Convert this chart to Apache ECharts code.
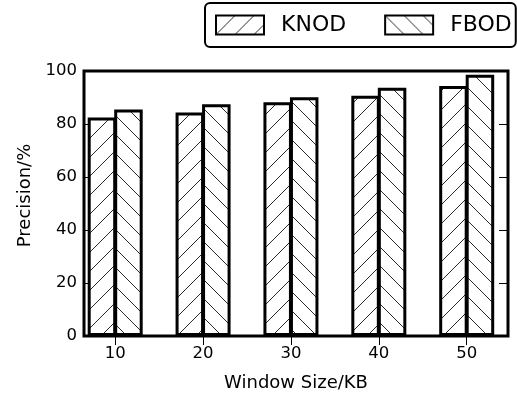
<!DOCTYPE html>
<html>
<head>
<meta charset="utf-8">
<script src="https://cdn.jsdelivr.net/npm/echarts@6/dist/echarts.min.js"></script>
<style>
html,body{margin:0;padding:0;background:#fff;}
#chart{width:517px;height:401px;}
</style>
</head>
<body>
<div id="chart"></div>
<script>
// ---- data ----
const windowSizes = [10, 20, 30, 40, 50];
const knodValues = [82.5, 84.3, 88.2, 90.7, 94.3];
const fbodValues = [85.5, 87.5, 90.1, 93.7, 98.6];
const yTicks = [0, 20, 40, 60, 80, 100];
const seriesNames = ['KNOD', 'FBOD'];

function hatch(forward) {
  const s = 19;
  const c = document.createElement('canvas');
  c.width = s; c.height = s;
  const g = c.getContext('2d');
  g.fillStyle = '#fff';
  g.fillRect(0, 0, s, s);
  g.strokeStyle = '#2a2a2a';
  g.lineWidth = 1;
  g.beginPath();
  for (const k of [-s, 0, s]) {
    if (forward) { g.moveTo(k, s); g.lineTo(k + s, 0); }
    else { g.moveTo(k, 0); g.lineTo(k + s, s); }
  }
  g.stroke();
  return { image: c, repeat: 'repeat' };
}

const font = 'DejaVu Sans';
const chart = echarts.init(document.getElementById('chart'));

const tickStyle = { show: true, inside: true, length: 9, lineStyle: { color: '#000', width: 1 } };

chart.setOption({
  animation: false,
  backgroundColor: '#fff',
  textStyle: { fontFamily: font },
  grid: { left: 84, right: 9, top: 71, bottom: 65, show: true, borderColor: '#000', borderWidth: 3, backgroundColor: 'transparent' },
  legend: {
    left: 205, top: 3, width: 330, orient: 'horizontal',
    data: seriesNames,
    icon: 'rect',
    itemWidth: 48, itemHeight: 19, itemGap: 38,
    padding: [11, 4, 11, 10],
    borderColor: '#000', borderWidth: 2, borderRadius: 5,
    textStyle: { fontFamily: font, fontSize: 22, color: '#000', padding: [0, 0, 0, 12] }
  },
  xAxis: [{
    type: 'value', min: 6.45, max: 54.7, position: 'bottom',
    name: 'Window Size/KB', nameLocation: 'middle', nameGap: 38,
    nameTextStyle: { fontFamily: font, fontSize: 18, color: '#000' },
    axisLine: { show: false },
    axisTick: Object.assign({ customValues: windowSizes }, tickStyle),
    axisLabel: { customValues: windowSizes, margin: 9, fontFamily: font, fontSize: 16.5, color: '#000' },
    splitLine: { show: false }
  }, {
    type: 'value', min: 6.45, max: 54.7, position: 'top',
    axisLine: { show: false },
    axisTick: Object.assign({ customValues: windowSizes }, tickStyle),
    axisLabel: { show: false },
    splitLine: { show: false }
  }],
  yAxis: [{
    type: 'value', min: 0, max: 100, interval: 20, position: 'left',
    name: 'Precision/%', nameLocation: 'middle', nameGap: 45,
    nameTextStyle: { fontFamily: font, fontSize: 18, color: '#000', padding: [0, 0, 0, 16] },
    axisLine: { show: false },
    axisTick: tickStyle,
    axisLabel: { margin: 7, fontFamily: font, fontSize: 16.5, color: '#000' },
    splitLine: { show: false }
  }, {
    type: 'value', min: 0, max: 100, interval: 20, position: 'right',
    axisLine: { show: false },
    axisTick: tickStyle,
    axisLabel: { show: false },
    splitLine: { show: false }
  }],
  series: [{
    name: seriesNames[0], type: 'bar', xAxisIndex: 0, yAxisIndex: 0,
    barWidth: 28.5, barGap: '-7%',
    data: windowSizes.map((x, i) => [x, knodValues[i]]),
    itemStyle: { color: hatch(true), borderColor: '#000', borderWidth: 3 }
  }, {
    name: seriesNames[1], type: 'bar', xAxisIndex: 0, yAxisIndex: 0,
    barWidth: 28.5, barGap: '-7%',
    data: windowSizes.map((x, i) => [x, fbodValues[i]]),
    itemStyle: { color: hatch(false), borderColor: '#000', borderWidth: 3 }
  }]
});
</script>
</body>
</html>
